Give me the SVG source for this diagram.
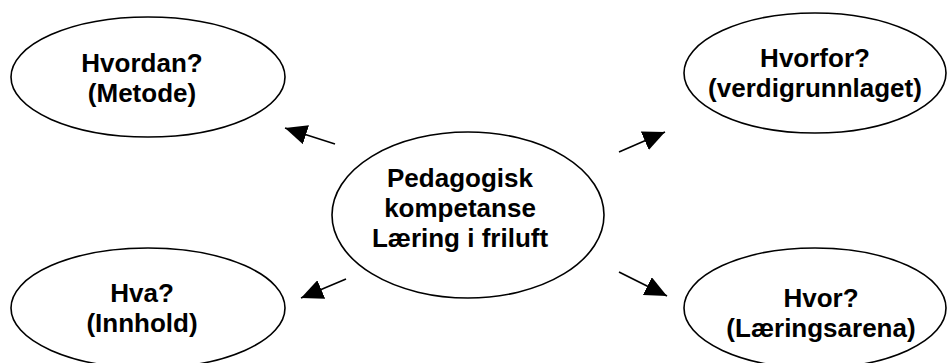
<svg xmlns="http://www.w3.org/2000/svg" width="948" height="363" viewBox="0 0 948 363">
<defs>
<marker id="ah" markerUnits="userSpaceOnUse" markerWidth="24" markerHeight="20" refX="22" refY="10" orient="auto">
<path d="M0,0 L22,10 L0,20 Z" fill="#000"/>
</marker>
<style>
.n ellipse{fill:#fff;stroke:#000;stroke-width:1.6}
.n text{font-family:"Liberation Sans",Arial,sans-serif;font-weight:bold;font-size:26px;text-anchor:middle;fill:#000}
.c line{stroke:#000;stroke-width:1.6;marker-end:url(#ah)}
</style>
</defs>
<rect width="948" height="363" fill="#fff"/>
<g class="c" id="connectors">
<line x1="335" y1="144" x2="285" y2="128"/>
<line x1="619" y1="152" x2="665" y2="132"/>
<line x1="346" y1="279" x2="301" y2="298"/>
<line x1="619" y1="272" x2="667" y2="296"/>
</g>
<g class="n" id="center">
<ellipse cx="468" cy="215" rx="136" ry="83"/>
<text x="460" y="187">Pedagogisk</text>
<text x="460" y="217">kompetanse</text>
<text x="460" y="247">Læring i friluft</text>
</g>
<g class="n" id="hvordan">
<ellipse cx="148" cy="77" rx="137" ry="60"/>
<text x="142" y="72">Hvordan?</text>
<text x="142" y="102">(Metode)</text>
</g>
<g class="n" id="hvorfor">
<ellipse cx="815" cy="73" rx="131" ry="60"/>
<text x="815" y="67">Hvorfor?</text>
<text x="815" y="97">(verdigrunnlaget)</text>
</g>
<g class="n" id="hva">
<ellipse cx="148" cy="308" rx="137" ry="60"/>
<text x="142" y="302">Hva?</text>
<text x="142" y="332">(Innhold)</text>
</g>
<g class="n" id="hvor">
<ellipse cx="815" cy="308" rx="131" ry="60"/>
<text x="821" y="307">Hvor?</text>
<text x="821" y="337">(Læringsarena)</text>
</g>
</svg>
